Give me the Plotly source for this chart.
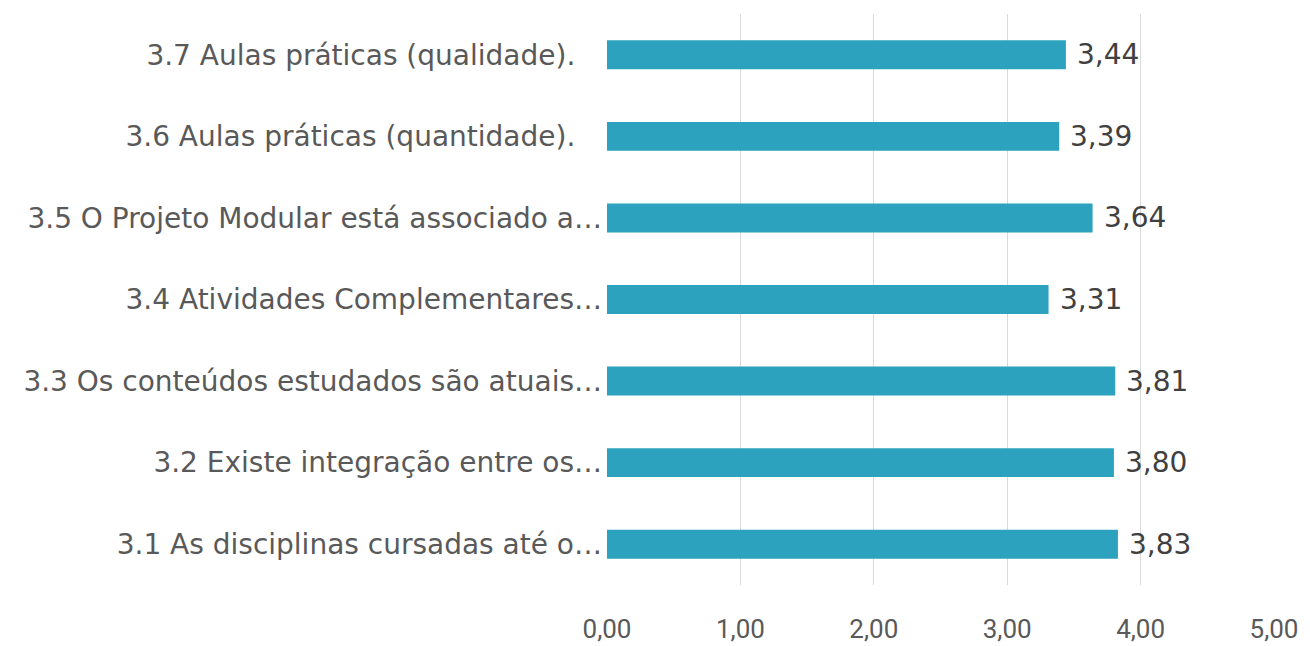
import plotly.graph_objects as go

# Survey items (bottom to top) and their mean scores
categories = [
    "3.1 As disciplinas cursadas até o…",
    "3.2 Existe integração entre os…",
    "3.3 Os conteúdos estudados são atuais…",
    "3.4 Atividades Complementares…",
    "3.5 O Projeto Modular está associado a…",
    "3.6 Aulas práticas (quantidade).\u00a0\u00a0\u00a0",
    "3.7 Aulas práticas (qualidade).\u00a0\u00a0\u00a0",
]
scores = [3.83, 3.80, 3.81, 3.31, 3.64, 3.39, 3.44]
x_ticks = [0, 1, 2, 3, 4, 5]
x_tick_labels = ["0,00", "1,00", "2,00", "3,00", "4,00", "5,00"]

BAR_COLOR = "#2ca2be"

fig = go.Figure()
fig.add_trace(go.Bar(
    x=scores,
    y=categories,
    orientation="h",
    marker=dict(color=BAR_COLOR, line=dict(width=0)),
    width=0.355,
    hoverinfo="skip",
))

# value labels just past the end of each bar
for cat, val in zip(categories, scores):
    fig.add_annotation(
        x=val, y=cat, xref="x", yref="y",
        text=f"{val:.2f}".replace(".", ","),
        showarrow=False, xanchor="left", yanchor="middle",
        xshift=9,
        font=dict(family="DejaVu Sans", size=28, color="#404040"),
    )

fig.update_layout(
    width=1310, height=646,
    margin=dict(l=607, r=36, t=14, b=61),
    paper_bgcolor="white", plot_bgcolor="white",
    showlegend=False,
    xaxis=dict(
        range=[0, 5],
        tickvals=x_ticks, ticktext=x_tick_labels,
        showgrid=True, gridcolor="#d9d9d9", gridwidth=1,
        zeroline=False, showline=False, ticks="",
        ticklabelstandoff=26,
        tickfont=dict(family="Roboto", size=26, color="#595959"),
        automargin=False,
        fixedrange=True,
    ),
    yaxis=dict(
        categoryorder="array", categoryarray=categories,
        range=[-0.5, len(categories) - 0.5],
        showgrid=False, zeroline=False, showline=False, ticks="",
        ticklabelstandoff=4,
        tickfont=dict(family="DejaVu Sans", size=28, color="#595959"),
        automargin=False,
        fixedrange=True,
    ),
)

fig.write_html("out.html")
